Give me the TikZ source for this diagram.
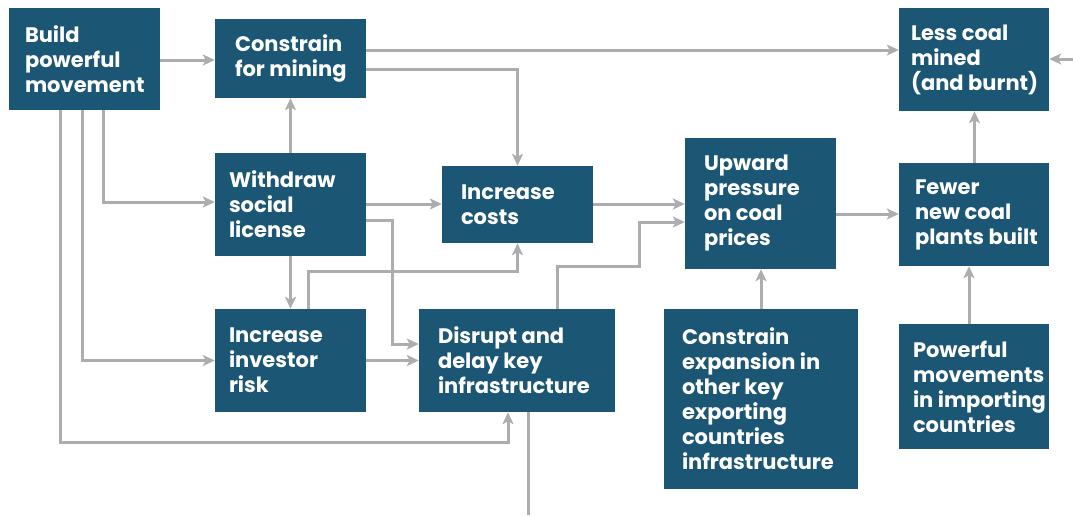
\documentclass[tikz,border=0pt]{standalone}
\usepackage{fontspec}
\setmainfont{Poppins}
\usetikzlibrary{arrows.meta}
\definecolor{boxblue}{HTML}{1B5674}
\definecolor{linegray}{HTML}{ADADB0}
\tikzset{
  box/.style={fill=boxblue, draw=none, inner sep=0pt},
  lbl/.style={anchor=west, align=left, text=white, inner sep=0pt,
    font=\fontsize{21}{25}\selectfont\bfseries},
  link/.style={draw=linegray, line width=3pt},
  arr/.style={link, -{Stealth[length=12pt,width=11pt,inset=3pt]}},
}
\begin{document}
\begin{tikzpicture}[x=1pt,y=-1pt]
\useasboundingbox (0,0) rectangle (1073,515);

% boxes
\node[box, minimum width=151, minimum height=102] (build)     at (84.5,59)   {};
\node[box, minimum width=151, minimum height=79]  (mining)    at (290.5,58.5) {};
\node[box, minimum width=151, minimum height=103] (withdraw)  at (290.5,204.5) {};
\node[box, minimum width=151, minimum height=77]  (costs)     at (517.5,204.5) {};
\node[box, minimum width=151, minimum height=131] (upward)    at (760.5,203.5) {};
\node[box, minimum width=150, minimum height=103] (lesscoal)  at (974,59.5)  {};
\node[box, minimum width=150, minimum height=103] (fewer)     at (974,214.5) {};
\node[box, minimum width=151, minimum height=103] (investor)  at (290.5,360.5) {};
\node[box, minimum width=196, minimum height=103] (disrupt)   at (517,360.5) {};
\node[box, minimum width=194, minimum height=180] (expansion) at (761,399)   {};
\node[box, minimum width=150, minimum height=125] (importing) at (974,386.5) {};

% labels
\node[lbl] (build-t)     at ([xshift=16pt]build.west)     {Build\\powerful\\movement};
\node[lbl] (mining-t)    at ([xshift=20pt]mining.west)    {Constrain\\for mining};
\node[lbl] (withdraw-t)  at ([xshift=14pt]withdraw.west)  {Withdraw\\social\\license};
\node[lbl] (costs-t)     at ([xshift=19pt]costs.west)     {Increase\\costs};
\node[lbl] (upward-t)    at ([xshift=19pt]upward.west)    {Upward\\pressure\\on coal\\prices};
\node[lbl] (lesscoal-t)  at ([xshift=12pt]lesscoal.west)  {Less coal\\mined\\(and burnt)};
\node[lbl] (fewer-t)     at ([xshift=16pt]fewer.west)     {Fewer\\new coal\\plants built};
\node[lbl] (investor-t)  at ([xshift=14pt]investor.west)  {Increase\\investor\\risk};
\node[lbl] (disrupt-t)   at ([xshift=19pt]disrupt.west)   {Disrupt and\\delay key\\infrastructure};
\node[lbl] (expansion-t) at ([xshift=18pt]expansion.west) {Constrain\\expansion in\\other key\\exporting\\countries\\infrastructure};
\node[lbl] (importing-t) at ([xshift=14pt]importing.west) {Powerful\\movements\\in importing\\countries};

% free ends at the picture edge
\coordinate (rightin) at (1073,59);
\coordinate (downout) at (528,515);

% connectors
\draw[arr] (build.east |- 0,60) -- (mining.west |- 0,60);
\draw[arr] (mining.east |- 0,50) -- (lesscoal.west |- 0,50);
\draw[arr] (mining.east |- 0,69) -| (costs.north);
\draw[arr] (rightin) -- (lesscoal.east |- rightin);
\draw[arr] (withdraw.north) -- (mining.south);
\draw[arr] (build.south -| 103,0) |- (withdraw.west |- 0,202);
\draw[arr] (withdraw.east |- 0,204) -- (costs.west |- 0,204);
\draw[arr] (withdraw.east |- 0,220) -- (392,220) |- (disrupt.west |- 0,344);
\draw[arr] (withdraw.south) -- (investor.north);
\draw[arr] (investor.north -| 308,0) -- (308,271) -| (costs.south);
\draw[arr] (build.south -| 82,0) |- (investor.west);
\draw[arr] (investor.east) -- (disrupt.west |- investor.east);
\draw[arr] (build.south -| 60,0) -- (60,442) -| (disrupt.south -| 508,0);
\draw[link] (disrupt.south -| downout) -- (downout);
\draw[arr] (disrupt.north -| 557,0) |- (639,266) |- (upward.west |- 0,222);
\draw[arr] (costs.east |- 0,204) -- (upward.west |- 0,204);
\draw[arr] (upward.east |- 0,214) -- (fewer.west |- 0,214);
\draw[arr] (fewer.north -| 974.5,0) -- (lesscoal.south -| 974.5,0);
\draw[arr] (expansion.north) -- (expansion.north |- upward.south);
\draw[arr] (importing.north -| 969,0) -- (fewer.south -| 969,0);
\end{tikzpicture}
\end{document}
